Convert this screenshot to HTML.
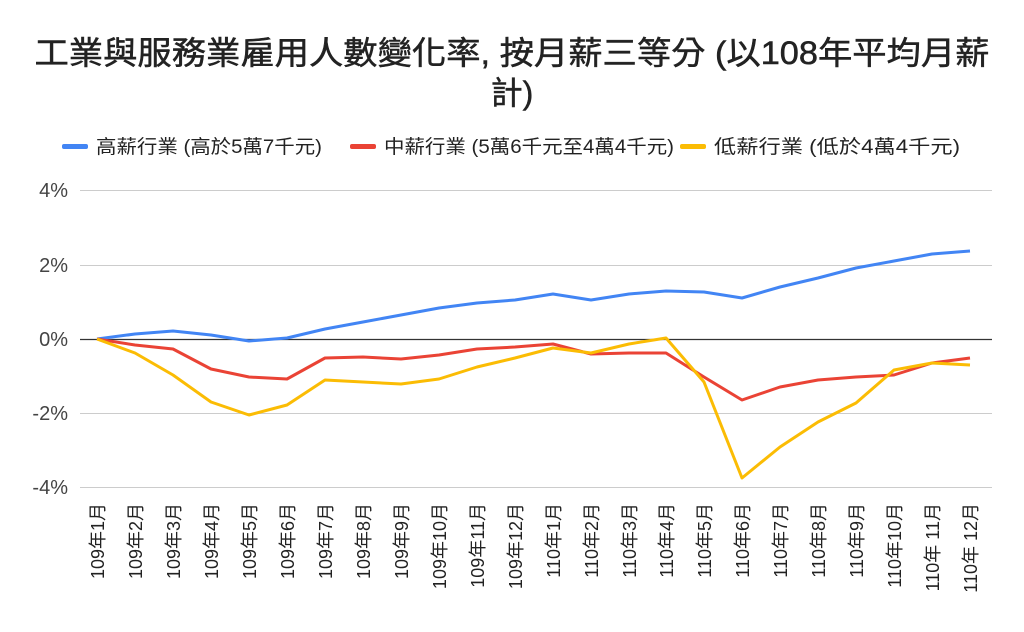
<!DOCTYPE html>
<html><head><meta charset="utf-8"><style>body{margin:0;background:#fff}svg{display:block}text{font-family:"Liberation Sans","Noto Sans CJK TC",sans-serif}</style></head><body>
<svg width="1024" height="632" viewBox="0 0 1024 632">
<g fill="#222" stroke="#222" stroke-width="0.5">
<text x="512" y="64" text-anchor="middle" font-size="32" textLength="955" lengthAdjust="spacingAndGlyphs">工業與服務業雇用人數變化率, 按月薪三等分 (以108年平均月薪</text>
<text x="512" y="104" text-anchor="middle" font-size="32">計)</text>
</g>
<g font-size="19" fill="#222">
<rect x="62" y="144" width="26" height="5" rx="2" fill="#4285f4"/><text x="96" y="153" textLength="226" lengthAdjust="spacingAndGlyphs">高薪行業 (高於5萬7千元)</text>
<rect x="350" y="144" width="26" height="5" rx="2" fill="#ea4335"/><text x="384" y="153" textLength="290" lengthAdjust="spacingAndGlyphs">中薪行業 (5萬6千元至4萬4千元)</text>
<rect x="680" y="144" width="26" height="5" rx="2" fill="#fbbc04"/><text x="714" y="153" textLength="246" lengthAdjust="spacingAndGlyphs">低薪行業 (低於4萬4千元)</text>
</g>
<g stroke="#ccc" stroke-width="1">
<line x1="80" x2="992" y1="190.5" y2="190.5"/><line x1="80" x2="992" y1="265.5" y2="265.5"/><line x1="80" x2="992" y1="413.5" y2="413.5"/><line x1="80" x2="992" y1="487.5" y2="487.5"/>
</g>
<line x1="80" x2="992" y1="339.5" y2="339.5" stroke="#333" stroke-width="1.3"/>
<g font-size="20" fill="#444" text-anchor="end">
<text x="68" y="197">4%</text><text x="68" y="272">2%</text><text x="68" y="346">0%</text><text x="68" y="420">-2%</text><text x="68" y="494">-4%</text>
</g>
<g fill="none" stroke-width="3" stroke-linejoin="round">
<polyline stroke="#4285f4" points="97,339 135,334 173,331 211,335 249,341 287,338 325,329 363,322 401,315 439,308 477,303 515,300 553,294 591,300 629,294 666,291 704,292 742,298 780,287 818,278 856,268 894,261 932,254 970,251"/>
<polyline stroke="#ea4335" points="97,339 135,345 173,349 211,369 249,377 287,379 325,358 363,357 401,359 439,355 477,349 515,347 553,344 591,354 629,353 666,353 704,377 742,400 780,387 818,380 856,377 894,375 932,363 970,358"/>
<polyline stroke="#fbbc04" points="97,339 135,353 173,375 211,402 249,415 287,405 325,380 363,382 401,384 439,379 477,367 515,358 553,348 591,353 629,344 666,338 704,382 742,478 780,447 818,422 856,403 894,370 932,363 970,365"/>
</g>
<g font-size="18" fill="#222" text-anchor="end">
<text transform="translate(104,503) rotate(-90)">109年1月</text>
<text transform="translate(142,503) rotate(-90)">109年2月</text>
<text transform="translate(180,503) rotate(-90)">109年3月</text>
<text transform="translate(218,503) rotate(-90)">109年4月</text>
<text transform="translate(256,503) rotate(-90)">109年5月</text>
<text transform="translate(294,503) rotate(-90)">109年6月</text>
<text transform="translate(332,503) rotate(-90)">109年7月</text>
<text transform="translate(370,503) rotate(-90)">109年8月</text>
<text transform="translate(408,503) rotate(-90)">109年9月</text>
<text transform="translate(446,503) rotate(-90)">109年10月</text>
<text transform="translate(484,503) rotate(-90)">109年11月</text>
<text transform="translate(522,503) rotate(-90)">109年12月</text>
<text transform="translate(560,503) rotate(-90)">110年1月</text>
<text transform="translate(598,503) rotate(-90)">110年2月</text>
<text transform="translate(636,503) rotate(-90)">110年3月</text>
<text transform="translate(673,503) rotate(-90)">110年4月</text>
<text transform="translate(711,503) rotate(-90)">110年5月</text>
<text transform="translate(749,503) rotate(-90)">110年6月</text>
<text transform="translate(787,503) rotate(-90)">110年7月</text>
<text transform="translate(825,503) rotate(-90)">110年8月</text>
<text transform="translate(863,503) rotate(-90)">110年9月</text>
<text transform="translate(901,503) rotate(-90)">110年10月</text>
<text transform="translate(939,503) rotate(-90)">110年 11月</text>
<text transform="translate(977,503) rotate(-90)">110年 12月</text>
</g>
</svg>
</body></html>
